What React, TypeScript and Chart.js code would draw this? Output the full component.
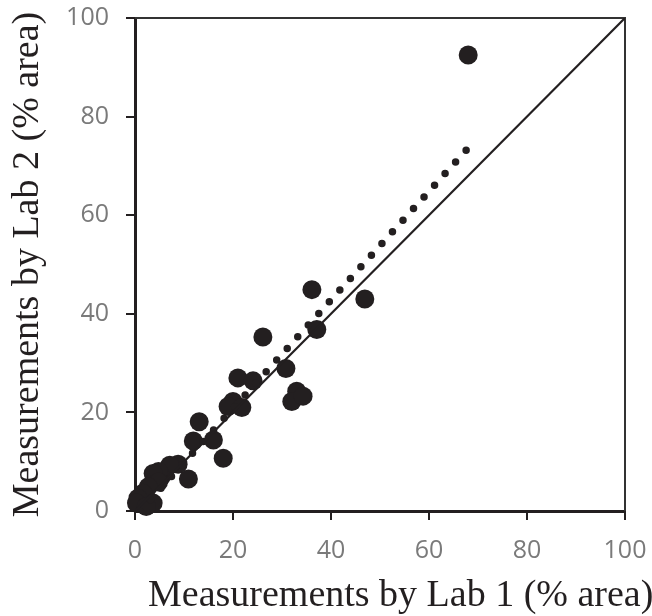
import React, { useEffect, useRef } from "react";
import { Chart, registerables } from "chart.js";

Chart.register(...registerables);

// Measurements by Lab 1 (x) and Lab 2 (y), % area
const lab1 = [68.0, 36.1, 46.9, 37.1, 26.1, 30.8, 21.0, 24.1, 33.0, 32.0, 34.3, 20.0, 19.0, 21.8, 13.1, 11.9, 16.0, 18.0, 10.9, 8.8, 7.1, 5.4, 4.8, 3.7, 4.8, 2.7, 1.6, 0.6, 0.3, 3.7, 2.3];
const lab2 = [92.5, 44.9, 43.0, 36.8, 35.3, 28.9, 27.0, 26.4, 24.3, 22.2, 23.3, 22.2, 21.2, 21.0, 18.1, 14.2, 14.4, 10.7, 6.5, 9.5, 9.3, 7.0, 8.0, 7.6, 5.9, 4.9, 3.6, 2.6, 1.6, 1.6, 0.9];

// Linear trend (dotted) endpoints
const trendX = [1.0, 67.7];
const trendY = [-0.1, 73.3];

// 1:1 identity line endpoints
const identityX = [0, 100];
const identityY = [0, 100];

const xTicks = [0, 20, 40, 60, 80, 100];
const yTicks = [0, 20, 40, 60, 80, 100];

const X_TITLE = "Measurements by Lab 1 (% area)";
const Y_TITLE = "Measurements by Lab 2 (% area)";

const INK = "#231f20";

const framePlugin = {
  id: "frameAndXTitle",
  beforeDatasetsDraw(chart: any) {
    const { ctx, chartArea } = chart;
    ctx.save();
    ctx.strokeStyle = "#333333";
    ctx.lineWidth = 2;
    ctx.beginPath();
    ctx.moveTo(chartArea.left, chartArea.top);
    ctx.lineTo(chartArea.right, chartArea.top);
    ctx.lineTo(chartArea.right, chartArea.bottom);
    ctx.stroke();
    ctx.restore();
  },
  afterDraw(chart: any) {
    const { ctx, chartArea } = chart;
    ctx.save();
    ctx.font = '38px "Liberation Serif"';
    ctx.fillStyle = INK;
    ctx.textAlign = "left";
    ctx.textBaseline = "alphabetic";
    ctx.fillText(X_TITLE, chartArea.left + 13, 606);
    ctx.restore();
  },
};

export default function App() {
  const ref = useRef<HTMLCanvasElement | null>(null);

  useEffect(() => {
    if (!ref.current) return;
    const points = lab1.map((x, i) => ({ x, y: lab2[i] }));
    const trend = trendX.map((x, i) => ({ x, y: trendY[i] }));
    const identity = identityX.map((x, i) => ({ x, y: identityY[i] }));

    const tickFont = { family: "'Open Sans', sans-serif", size: 25 };

    const chart = new Chart(ref.current, {
      type: "scatter",
      data: {
        datasets: [
          {
            type: "line",
            label: "1:1",
            data: identity,
            borderColor: INK,
            borderWidth: 2.2,
            pointRadius: 0,
            fill: false,
          } as any,
          {
            type: "line",
            label: "Trend",
            data: trend,
            borderColor: INK,
            borderWidth: 7.5,
            borderDash: [0, 15.7],
            borderCapStyle: "round",
            pointRadius: 0,
            fill: false,
          } as any,
          {
            label: "Samples",
            data: points,
            backgroundColor: INK,
            borderColor: INK,
            borderWidth: 0,
            pointRadius: 9.5,
            clip: false,
          } as any,
        ],
      },
      options: {
        animation: false,
        responsive: true,
        maintainAspectRatio: false,
        layout: { padding: { top: 18, right: 27, left: 0, bottom: 0 } },
        plugins: {
          legend: { display: false },
          tooltip: { enabled: false },
        },
        scales: {
          x: {
            type: "linear",
            min: 0,
            max: 100,
            afterFit: (s: any) => {
              s.height = 105;
              s.paddingLeft = 0;
              s.paddingRight = 0;
            },
            afterBuildTicks: (s: any) => {
              s.ticks = xTicks.map((v) => ({ value: v }));
            },
            ticks: { font: tickFont, color: "#7a7a7a", padding: 16 },
            grid: {
              drawOnChartArea: false,
              drawTicks: true,
              tickLength: 9,
              color: INK,
              lineWidth: 2,
            },
            border: { display: true, color: INK, width: 3 },
          },
          y: {
            type: "linear",
            min: 0,
            max: 100,
            afterFit: (s: any) => {
              s.width = 135;
              s.paddingTop = 0;
              s.paddingBottom = 0;
            },
            afterBuildTicks: (s: any) => {
              s.ticks = yTicks.map((v) => ({ value: v }));
            },
            ticks: { font: tickFont, color: "#7a7a7a", padding: 17 },
            grid: {
              drawOnChartArea: false,
              drawTicks: true,
              tickLength: 9,
              color: INK,
              lineWidth: 2,
            },
            border: { display: true, color: INK, width: 3 },
            title: {
              display: true,
              text: Y_TITLE,
              color: INK,
              font: { family: "'Liberation Serif', serif", size: 38 },
              padding: { top: 5, bottom: 0 },
            },
          },
        },
      },
      plugins: [framePlugin],
    });
    return () => chart.destroy();
  }, []);

  return (
    <div style={{ position: "fixed", left: 0, top: 0, width: 652, height: 616, background: "#fff" }}>
      <canvas ref={ref} />
    </div>
  );
}
